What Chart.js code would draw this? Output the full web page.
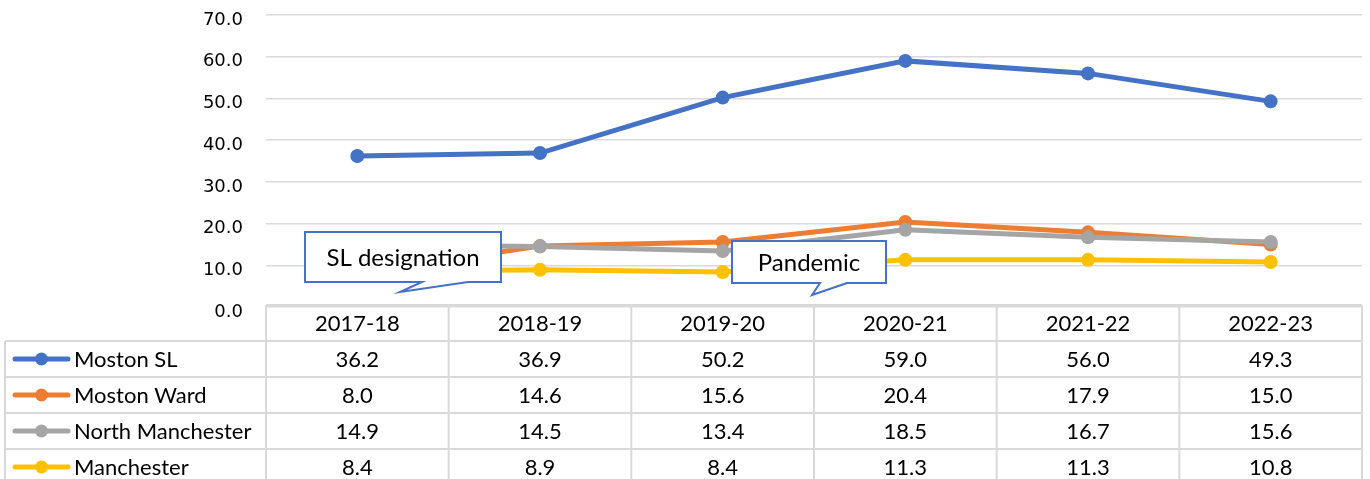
<!DOCTYPE html>
<html>
<head>
<meta charset="utf-8">
<script src="https://cdn.jsdelivr.net/npm/chart.js@4.4.1/dist/chart.umd.min.js"></script>
<style>
  html, body { margin: 0; padding: 0; background: #fff; }
  #wrap { width: 1370px; height: 479px; }
</style>
</head>
<body>
<div id="wrap"><canvas id="chart" width="1370" height="479"></canvas></div>
<script>
// data
const years = ['2017-18', '2018-19', '2019-20', '2020-21', '2021-22', '2022-23'];
const mostonSL = [36.2, 36.9, 50.2, 59.0, 56.0, 49.3];
const mostonWard = [8.0, 14.6, 15.6, 20.4, 17.9, 15.0];
const northManchester = [14.9, 14.5, 13.4, 18.5, 16.7, 15.6];
const manchester = [8.4, 8.9, 8.4, 11.3, 11.3, 10.8];
const seriesNames = ['Moston SL', 'Moston Ward', 'North Manchester', 'Manchester'];
const seriesColors = ['#4472C4', '#ED7D31', '#A5A5A5', '#FFC000'];

const gridColor = '#d9d9d9';
const textColor = '#000';
const tableFont = '22px Lato';

function line(ctx, x1, y1, x2, y2) {
    ctx.beginPath();
    ctx.moveTo(x1, y1);
    ctx.lineTo(x2, y2);
    ctx.stroke();
}

function callout(ctx, box, tail, text) {
    ctx.save();
    ctx.beginPath();
    ctx.moveTo(box.x, box.y);
    ctx.lineTo(box.x + box.w, box.y);
    ctx.lineTo(box.x + box.w, box.y + box.h);
    ctx.lineTo(tail[3], box.y + box.h);
    ctx.lineTo(tail[0], tail[1]);
    ctx.lineTo(tail[2], box.y + box.h);
    ctx.lineTo(box.x, box.y + box.h);
    ctx.closePath();
    ctx.fillStyle = '#fff';
    ctx.fill();
    ctx.strokeStyle = '#4472C4';
    ctx.lineWidth = 2;
    ctx.stroke();
    ctx.fillStyle = textColor;
    ctx.font = '24px Lato';
    ctx.textAlign = 'center';
    ctx.textBaseline = 'middle';
    ctx.fillText(text, box.x + box.w / 2, box.y + box.h / 2 + 1);
    ctx.restore();
}

const tablePlugin = {
    id: 'dataTable',
    afterDraw(chart) {
        const ctx = chart.ctx;
        const xs = chart.scales.x;
        const area = chart.chartArea;
        const colW = (area.right - area.left) / years.length;
        const rowH = 36;
        const top = area.bottom - 2;
        const leftX = 5;
        const rows = [mostonSL, mostonWard, northManchester, manchester];

        // callouts over the lines
        callout(ctx, {x: 305, y: 232, w: 196, h: 50}, [400, 292, 422, 468], 'SL designation');
        callout(ctx, {x: 732, y: 241, w: 154, h: 42}, [812, 295, 820, 847], 'Pandemic');

        ctx.save();
        ctx.strokeStyle = gridColor;
        ctx.lineWidth = 2;
        line(ctx, area.left, top, area.right, top);
        for (let r = 1; r <= rows.length; r++) {
            line(ctx, leftX, top + r * rowH, area.right, top + r * rowH);
        }
        for (let c = 0; c <= years.length; c++) {
            line(ctx, area.left + c * colW, top, area.left + c * colW, chart.height);
        }
        line(ctx, leftX, top + rowH, leftX, chart.height);

        ctx.fillStyle = textColor;
        ctx.font = tableFont;
        ctx.textAlign = 'center';
        ctx.textBaseline = 'middle';
        years.forEach((y, i) => {
            ctx.fillText(y, xs.getPixelForValue(i), top + rowH / 2 + 1);
        });
        rows.forEach((vals, r) => {
            const cy = top + rowH * (r + 1) + rowH / 2 + 1;
            vals.forEach((v, i) => {
                ctx.fillText(v.toFixed(1), xs.getPixelForValue(i), cy);
            });
            // legend key
            ctx.strokeStyle = seriesColors[r];
            ctx.lineWidth = 5;
            ctx.lineCap = 'round';
            line(ctx, 15, cy - 1, 68, cy - 1);
            ctx.beginPath();
            ctx.arc(41.5, cy - 1, 6.5, 0, Math.PI * 2);
            ctx.fillStyle = seriesColors[r];
            ctx.fill();
            ctx.fillStyle = textColor;
            ctx.textAlign = 'left';
            ctx.fillText(seriesNames[r], 74, cy);
            ctx.textAlign = 'center';
        });
        ctx.restore();
    }
};

const rows = [mostonSL, mostonWard, northManchester, manchester];
const datasets = rows.map((vals, i) => ({
    label: seriesNames[i],
    data: vals,
    borderColor: seriesColors[i],
    backgroundColor: seriesColors[i],
    borderWidth: 5,
    pointRadius: 7,
    pointBorderWidth: 0,
    pointBackgroundColor: seriesColors[i],
    tension: 0,
    order: rows.length - 1 - i
}));

new Chart(document.getElementById('chart'), {
    type: 'line',
    data: { labels: years, datasets: datasets },
    options: {
        responsive: false,
        animation: false,
        devicePixelRatio: 1,
        layout: { padding: { top: 15, right: 8, bottom: 172, left: 0 } },
        plugins: { legend: { display: false }, tooltip: { enabled: false } },
        scales: {
            x: {
                display: false,
                offset: true
            },
            y: {
                min: 0,
                max: 70,
                afterFit(scale) {
                    scale.width = 266;
                    scale.paddingTop = 0;
                    scale.paddingBottom = 0;
                },
                border: { display: false },
                grid: { color: gridColor, lineWidth: 1.5, drawTicks: false },
                ticks: {
                    stepSize: 10,
                    padding: 23,
                    labelOffset: 5,
                    color: textColor,
                    font: { family: 'DejaVu Sans', size: 18 },
                    callback: v => Number(v).toFixed(1)
                }
            }
        }
    },
    plugins: [tablePlugin]
});
</script>
</body>
</html>
